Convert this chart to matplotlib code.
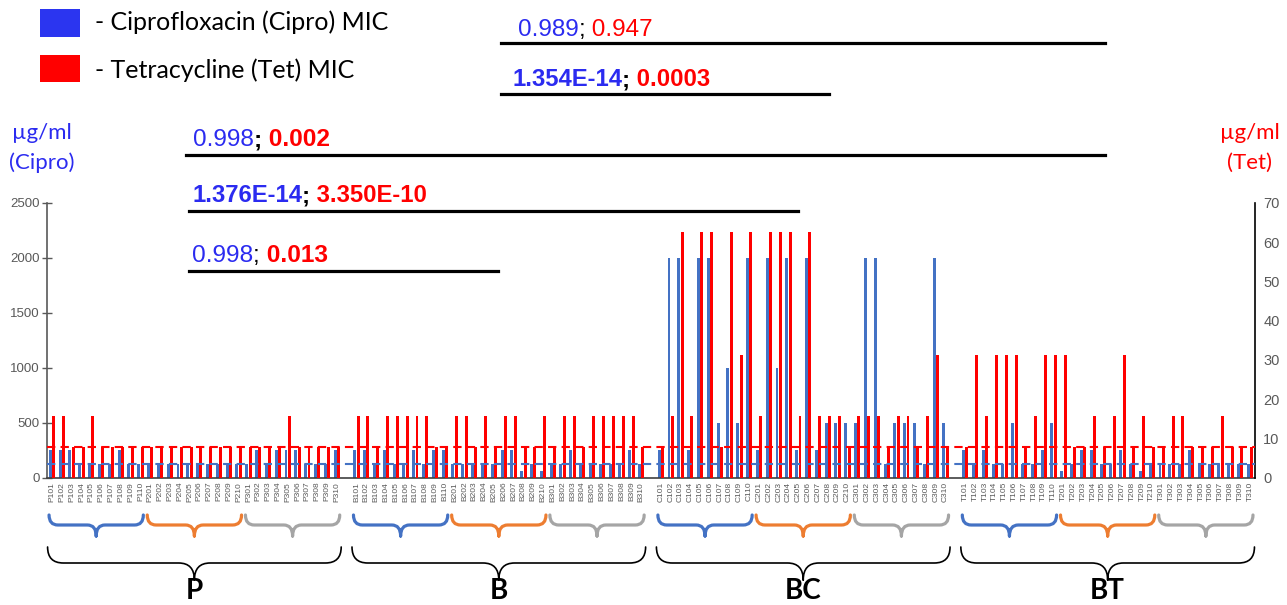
import matplotlib
matplotlib.use('Agg')
import matplotlib.pyplot as plt
from matplotlib.path import Path
from matplotlib.patches import PathPatch, Rectangle
from matplotlib.transforms import blended_transform_factory
import numpy as np

plt.rcParams['font.family'] = ['Liberation Sans', 'DejaVu Sans']

# ---------------- data ----------------
group_names = ['P', 'B', 'BC', 'BT']
label_prefixes = ['P', 'B', 'C', 'T']

cipro_P = [250, 250, 250, 125, 125, 125, 125, 250, 125, 125,
           125, 125, 125, 125, 125, 125, 125, 125, 125, 125,
           125, 250, 125, 250, 250, 250, 125, 125, 125, 250]
tet_P = [15.625, 15.625, 7.8125, 7.8125, 15.625, 7.8125, 7.8125, 7.8125, 7.8125, 7.8125,
         7.8125, 7.8125, 7.8125, 7.8125, 7.8125, 7.8125, 7.8125, 7.8125, 7.8125, 7.8125,
         7.8125, 7.8125, 7.8125, 7.8125, 15.625, 7.8125, 7.8125, 7.8125, 7.8125, 7.8125]

cipro_B = [250, 250, 125, 250, 125, 125, 250, 125, 250, 250,
           125, 125, 125, 125, 125, 250, 250, 62.5, 125, 62.5,
           125, 125, 250, 125, 125, 125, 125, 125, 250, 125]
tet_B = [15.625, 15.625, 7.8125, 15.625, 15.625, 15.625, 15.625, 15.625, 7.8125, 7.8125,
         15.625, 15.625, 7.8125, 15.625, 7.8125, 15.625, 15.625, 7.8125, 7.8125, 15.625,
         7.8125, 15.625, 15.625, 7.8125, 15.625, 15.625, 15.625, 15.625, 15.625, 7.8125]

cipro_C = [250, 2000, 2000, 250, 2000, 2000, 500, 1000, 500, 2000,
           250, 2000, 1000, 2000, 250, 2000, 250, 500, 500, 500,
           500, 2000, 2000, 125, 500, 500, 500, 125, 2000, 500]
tet_C = [7.8125, 15.625, 62.5, 15.625, 62.5, 62.5, 7.8125, 62.5, 31.25, 62.5,
         15.625, 62.5, 62.5, 62.5, 15.625, 62.5, 15.625, 15.625, 15.625, 7.8125,
         15.625, 15.625, 15.625, 7.8125, 15.625, 15.625, 7.8125, 15.625, 31.25, 7.8125]

cipro_T = [250, 125, 250, 125, 125, 500, 125, 125, 250, 500,
           62.5, 125, 250, 250, 125, 125, 250, 125, 62.5, 125,
           125, 125, 125, 250, 125, 125, 125, 125, 125, 125]
tet_T = [7.8125, 31.25, 15.625, 31.25, 31.25, 31.25, 7.8125, 15.625, 31.25, 31.25,
         31.25, 7.8125, 7.8125, 15.625, 7.8125, 15.625, 31.25, 7.8125, 15.625, 7.8125,
         7.8125, 15.625, 15.625, 7.8125, 7.8125, 7.8125, 15.625, 7.8125, 7.8125, 7.8125]

cipro_breakpoint = 125
tet_breakpoint = 7.8125

cipro_all = cipro_P + cipro_B + cipro_C + cipro_T
tet_all = tet_P + tet_B + tet_C + tet_T

# ---------------- layout ----------------
W, H = 1287, 605
fig = plt.figure(figsize=(W / 100, H / 100), dpi=100)


def fx(px):
    return px / W


def fy(py):
    return 1 - py / H


pos, tick_labels = [], []
for g, pre in enumerate(label_prefixes):
    for s in range(1, 4):
        for n in range(1, 11):
            pos.append(g * 31 + (s - 1) * 10 + (n - 1))
            tick_labels.append(f"{pre}{s}{n:02d}")
pos = np.array(pos, dtype=float)

slot = 9.82
n_slots = 123
y_base, y_top = 477.7, 202.8
ax = fig.add_axes([fx(52 - 0.5 * slot), fy(y_base), n_slots * slot / W, (y_base - y_top) / H])
ax2 = ax.twinx()

BLUE = '#4472C4'
RED = '#FF0000'
TXT_BLUE = '#2B2BF0'

ax.bar(pos - 0.17, cipro_all, width=0.3, color=BLUE, zorder=2)
ax2.bar(pos + 0.17, tet_all, width=0.3, color=RED, zorder=2)
ax2.axhline(tet_breakpoint, color=RED, ls=(0, (4, 2.5)), lw=1.5, zorder=3)
ax2.axhline(cipro_breakpoint * 70 / 2500, color=BLUE, ls=(0, (4, 2.5)), lw=1.5, zorder=3)

ax.set_xlim(-0.5, n_slots - 0.5)
ax.set_ylim(0, 2500)
ax2.set_ylim(0, 70)
ax.set_yticks(range(0, 2501, 500))
ax2.set_yticks(range(0, 71, 10))
ax.set_xticks(pos)
ax.set_xticklabels(tick_labels, rotation=90, fontsize=6, color='#595959')
ax.tick_params(axis='x', length=0, pad=3)
ax.tick_params(axis='y', direction='inout', length=7, width=1, color='#595959',
               labelcolor='#595959', labelsize=9.5, pad=2)
ax2.tick_params(axis='y', length=0, labelcolor='#595959', labelsize=10.5, pad=6)

for a in (ax, ax2):
    a.spines['top'].set_visible(False)
ax.spines['right'].set_visible(False)
ax2.spines['left'].set_visible(False)
ax2.spines['bottom'].set_visible(False)
ax.spines['left'].set_color('#595959')
ax.spines['left'].set_linewidth(1.2)
ax.spines['bottom'].set_color('#404040')
ax.spines['bottom'].set_linewidth(1.2)
ax2.spines['right'].set_color('black')
ax2.spines['right'].set_linewidth(1.2)

renderer = fig.canvas.get_renderer()


def piece_widths(pieces, size, family):
    total = 0
    for s, color, weight in pieces:
        t = fig.text(0, 0, s, fontsize=size, fontweight=weight, family=family)
        total += t.get_window_extent(renderer=renderer).width
        t.remove()
    return total


def rich(x_px, y_px, pieces, target_w, family=('Liberation Sans', 'DejaVu Sans')):
    family = list(family)
    size = 10 * target_w / piece_widths(pieces, 10, family)
    x = x_px
    for s, color, weight in pieces:
        t = fig.text(fx(x), fy(y_px), s, color=color, fontsize=size, fontweight=weight,
                     family=family, va='center', ha='left')
        x += t.get_window_extent(renderer=renderer).width
    return size


# legend
fig.patches.append(Rectangle((fx(40), fy(37)), 40 / W, 28 / H, transform=fig.transFigure,
                             facecolor='#2B35F0', edgecolor='none'))
fig.patches.append(Rectangle((fx(40), fy(82)), 40 / W, 27 / H, transform=fig.transFigure,
                             facecolor='#FF0000', edgecolor='none'))
lsize = rich(95, 22, [('- Ciprofloxacin (Cipro) MIC', 'black', 'normal')], 295,
             family=('Lato', 'DejaVu Sans'))
fig.text(fx(95), fy(70), '- Tetracycline (Tet) MIC', fontsize=lsize, family=['Lato', 'DejaVu Sans'],
         va='center', ha='left', color='black')

# comparison annotations
rich(518, 30, [('0.989', TXT_BLUE, 'normal'), (';', 'black', 'normal'), (' 0.947', RED, 'normal')], 134)
rich(512, 80, [('1.354E-14', TXT_BLUE, 'bold'), (';', 'black', 'bold'), (' 0.0003', RED, 'bold')], 199)
rich(193, 140, [('0.998', TXT_BLUE, 'normal'), (';', 'black', 'bold'), (' 0.002', RED, 'bold')], 137)
rich(192, 196, [('1.376E-14', TXT_BLUE, 'bold'), (';', 'black', 'bold'), (' 3.350E-10', RED, 'bold')], 236)
rich(192, 256, [('0.998', TXT_BLUE, 'normal'), (';', 'black', 'normal'), (' 0.013', RED, 'bold')], 136)

for (x0, x1, yy) in [(501, 1105, 43), (501, 829, 94), (186, 1105, 155), (189, 798, 211), (189, 498, 271)]:
    fig.add_artist(plt.Line2D([fx(x0), fx(x1)], [fy(yy), fy(yy)], color='black', lw=2.3,
                              transform=fig.transFigure))

# unit labels
for txt, yy in [('\u00b5g/ml', 133), ('(Cipro)', 163)]:
    fig.text(fx(42), fy(yy), txt, color=TXT_BLUE, fontsize=16, family=['Lato', 'DejaVu Sans'],
             ha='center', va='center')
for txt, yy in [('\u00b5g/ml', 133), ('(Tet)', 163)]:
    fig.text(fx(1250), fy(yy), txt, color=RED, fontsize=16, family=['Lato', 'DejaVu Sans'],
             ha='center', va='center')

# braces
btrans = blended_transform_factory(ax.transData, fig.transFigure)


def brace(x0, x1, y_end, y_mid, y_tip, color, lw, r):
    xm = (x0 + x1) / 2
    ye, ym, yt = fy(y_end), fy(y_mid), fy(y_tip)
    verts = [(x0, ye), (x0, ym), (x0 + r, ym), (xm - r, ym), (xm, ym), (xm, yt),
             (xm, yt), (xm, ym), (xm + r, ym), (x1 - r, ym), (x1, ym), (x1, ye)]
    codes = [Path.MOVETO, Path.CURVE3, Path.CURVE3, Path.LINETO, Path.CURVE3, Path.CURVE3,
             Path.MOVETO, Path.CURVE3, Path.CURVE3, Path.LINETO, Path.CURVE3, Path.CURVE3]
    fig.add_artist(PathPatch(Path(verts, codes), transform=btrans, facecolor='none',
                             edgecolor=color, lw=lw, clip_on=False, capstyle='round',
                             joinstyle='round'))


sub_colors = [BLUE, '#ED7D31', '#A5A5A5']
for g in range(4):
    for s in range(3):
        start = g * 31 + s * 10
        brace(start - 0.3, start + 9 + 0.3, 515, 525, 536, sub_colors[s], 2.3, 0.9)
    gs = g * 31
    brace(gs - 0.45, gs + 29 + 0.45, 547, 563, 580, 'black', 1.2, 1.6)
    fig.text(gs + 14.5, fy(591), group_names[g], transform=btrans, fontsize=20, fontweight='bold',
             family=['Lato', 'DejaVu Sans'], ha='center', va='center')

fig.savefig('out.png', dpi=100)
